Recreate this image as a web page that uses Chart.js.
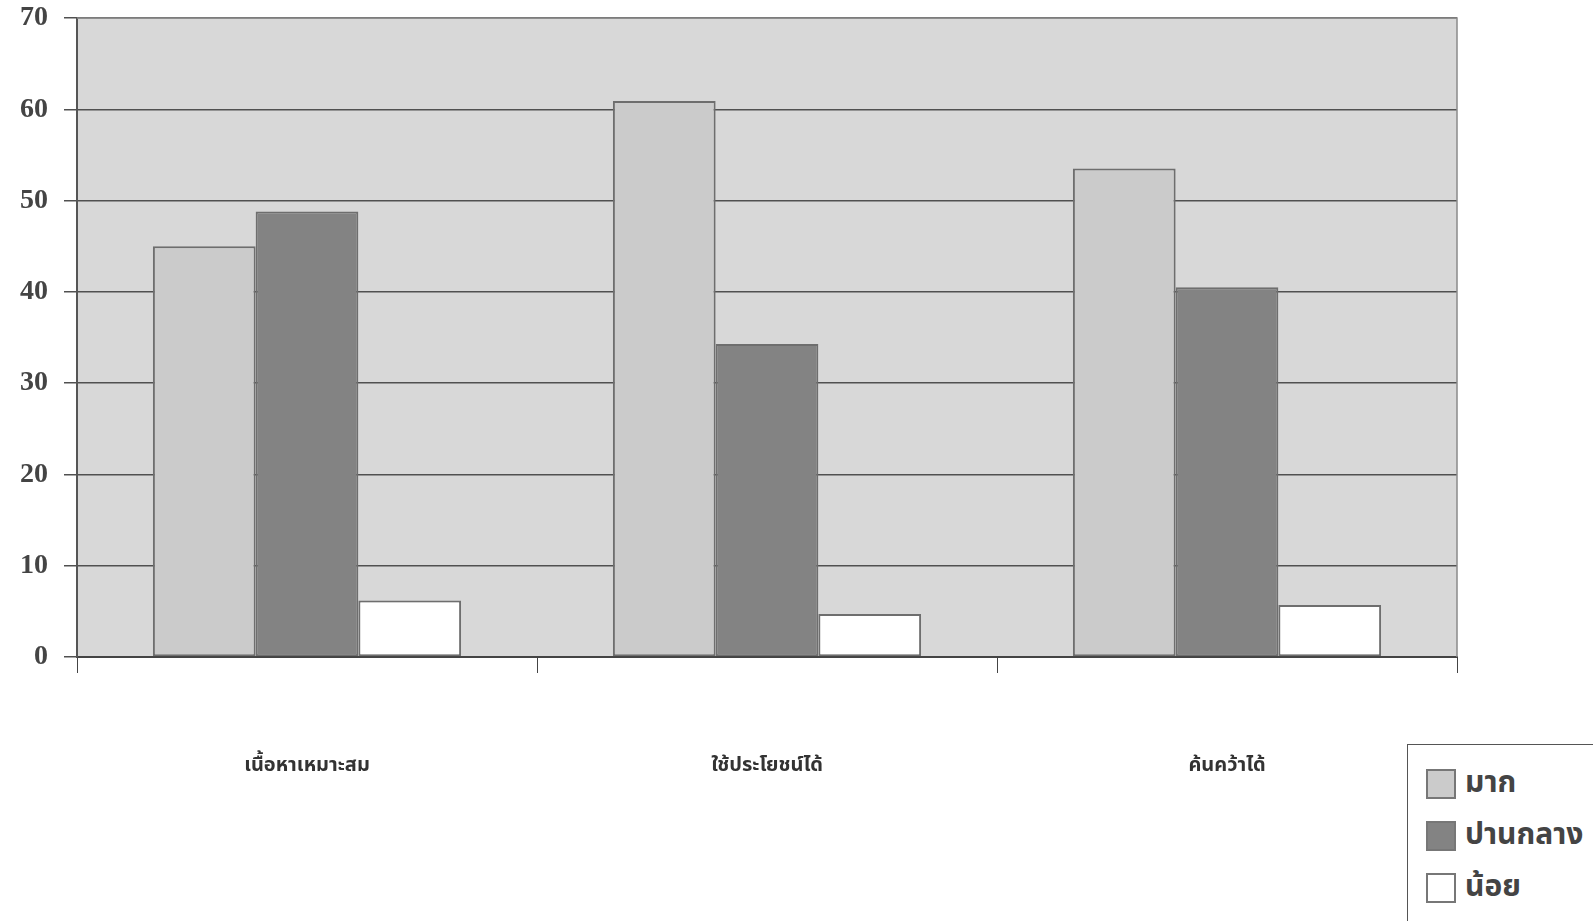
<!DOCTYPE html>
<html lang="th">
<head>
  <meta charset="UTF-8">
  <title>ความคิดเห็น</title>
  <script src="https://cdn.jsdelivr.net/npm/chart.js"></script>
  <style>
    html, body {
      margin: 0;
      padding: 0;
      background: #fff;
      overflow: hidden;
    }
    #wrap {
      position: relative;
      width: 1593px;
      height: 921px;
    }
    #legend {
      position: absolute;
      left: 1407px;
      top: 744px;
      width: 210px;
      height: 190px;
      border: 1px solid #555;
      background: #fff;
      font-family: "Noto Sans Thai", "Loma", "Garuda", "Noto Sans", sans-serif;
      font-size: 30px;
      font-weight: bold;
      color: #444;
    }
    .item {
      position: absolute;
      left: 18px;
      height: 32px;
      line-height: 32px;
      white-space: nowrap;
    }
    .sw {
      display: inline-block;
      width: 30px;
      height: 30px;
      border: 2px solid #777;
      vertical-align: middle;
      margin-right: 9px;
      box-sizing: border-box;
    }
  </style>
</head>
<body>
  <div id="wrap">
    <canvas id="chart"></canvas>
    <div id="legend"></div>
  </div>

  <script>
    const categories = ['เนื้อหาเหมาะสม', 'ใช้ประโยชน์ได้', 'ค้นคว้าได้'];
    const seriesNames = ['มาก', 'ปานกลาง', 'น้อย'];
    const mak = [45.0, 60.9, 53.5];
    const panklang = [48.8, 34.3, 40.5];
    const noi = [6.2, 4.7, 5.7];
    const yMin = 0;
    const yMax = 70;
    const yStep = 10;

    const colors = ['#cbcbcb', '#838383', '#ffffff'];
    const edge = '#6e6e6e';
    const serif = '"Liberation Serif", "DejaVu Serif", serif';

    // grey plot area behind the bars, thin frame on top and right
    const plotBg = {
      id: 'plotBg',
      beforeDraw(chart) {
        const a = chart.chartArea;
        const ctx = chart.ctx;
        ctx.save();
        ctx.fillStyle = '#d8d8d8';
        ctx.fillRect(a.left, a.top, a.right - a.left, a.bottom - a.top);
        ctx.restore();
      },
      afterDraw(chart) {
        const a = chart.chartArea;
        const ctx = chart.ctx;
        ctx.save();
        ctx.strokeStyle = '#8a8a8a';
        ctx.lineWidth = 1.5;
        ctx.beginPath();
        ctx.moveTo(a.left, a.top);
        ctx.lineTo(a.right, a.top);
        ctx.lineTo(a.right, a.bottom);
        ctx.stroke();
        ctx.restore();
      }
    };

    const values = [mak, panklang, noi];
    const datasets = seriesNames.map((name, i) => ({
      label: name,
      data: values[i],
      backgroundColor: colors[i],
      borderColor: edge,
      borderWidth: 2,
      borderSkipped: false
    }));

    new Chart(document.getElementById('chart'), {
      type: 'bar',
      data: { labels: categories, datasets },
      plugins: [plotBg],
      options: {
        responsive: true,
        maintainAspectRatio: false,
        animation: false,
        layout: { padding: { top: 18, right: 136, left: 0, bottom: 0 } },
        categoryPercentage: 0.67,
        barPercentage: 1.0,
        scales: {
          x: {
            afterFit(scale) { scale.height = 264; },
            grid: {
              offset: true,
              drawOnChartArea: false,
              drawTicks: true,
              tickLength: 16,
              color: '#444'
            },
            border: { color: '#444', width: 2 },
            ticks: {
              padding: 82,
              color: '#333',
              font: { family: '"Noto Sans Thai", "Loma", "Garuda", "Noto Sans", sans-serif', size: 20, weight: 'bold' }
            }
          },
          y: {
            min: yMin,
            max: yMax,
            afterFit(scale) {
              scale.width = 77;
              scale.paddingTop = 0;
              scale.paddingBottom = 0;
            },
            grid: {
              color: '#505050',
              lineWidth: 1.5,
              tickLength: 13
            },
            border: { color: '#555', width: 2 },
            ticks: {
              stepSize: yStep,
              padding: 16,
              color: '#444',
              font: { family: serif, size: 28, weight: 'bold' }
            }
          }
        },
        plugins: {
          legend: { display: false },
          tooltip: { enabled: false }
        }
      }
    });

    const legendEl = document.getElementById('legend');
    seriesNames.forEach((name, i) => {
      const row = document.createElement('div');
      row.className = 'item';
      row.style.top = (22 + i * 52) + 'px';
      row.innerHTML = '<span class="sw" style="background:' + colors[i] + '"></span>' + name;
      legendEl.appendChild(row);
    });
  </script>
</body>
</html>
